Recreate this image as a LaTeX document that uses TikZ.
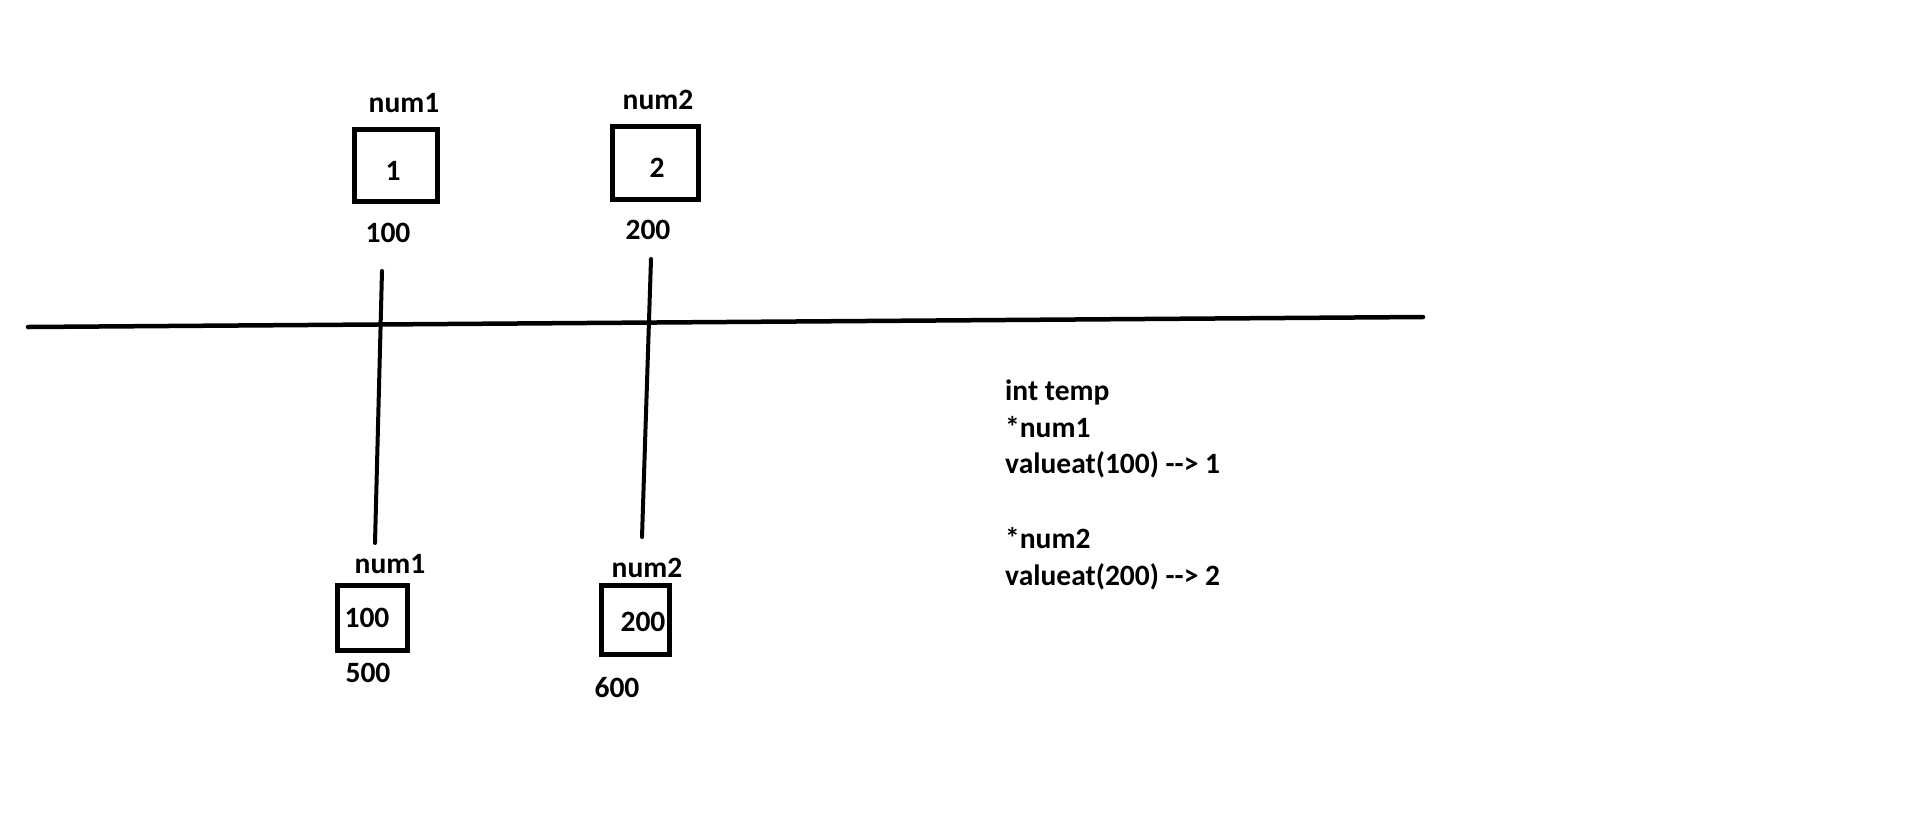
\documentclass[tikz,border=0pt]{standalone}
\usepackage{fontspec}
\setmainfont{Carlito}
\begin{document}
\begin{tikzpicture}[x=1pt,y=-1pt,
  txt/.style={inner sep=0pt, anchor=base, font=\fontsize{29.5}{35}\selectfont\bfseries},
  code/.style={txt, anchor=base west},
  cell/.style={draw, line width=5pt, inner sep=0pt},
  wire/.style={line width=4pt, line cap=round}]
\useasboundingbox[fill=white] (0,0) rectangle (1906,820);
% top boxes
\node[cell, minimum width=83pt, minimum height=72pt] (b1) at (396,165.5) {};
\node[cell, minimum width=86pt, minimum height=73pt] (b2) at (655.5,163) {};
\node[txt] (v1) at (393,180) {1};
\node[txt] (v2) at (657,177) {2};
\node[txt] (n1) at (404,112) {num1};
\node[txt] (n2) at (658,109) {num2};
\node[txt] (a1) at (388,242) {100};
\node[txt] (a2) at (648,239) {200};
% bottom boxes
\node[cell, minimum width=70pt, minimum height=65pt] (p1) at (372.5,618) {};
\node[cell, minimum width=68pt, minimum height=69pt] (p2) at (635.5,620) {};
\node[txt] (pv1) at (367,627) {100};
\node[txt] (pv2) at (643,631) {200};
\node[txt] (pn1) at (390,573) {num1};
\node[txt] (pn2) at (647,577) {num2};
\node[txt] (pa1) at (368,682) {500};
\node[txt] (pa2) at (617,697) {600};
% lines
\coordinate (hL) at (28,327);
\coordinate (hR) at (1423,317);
\coordinate (l1t) at (382,271);
\coordinate (l1b) at (375,543);
\coordinate (l2t) at (651,259);
\coordinate (l2b) at (642,537);
\draw[wire, line width=4.5pt] (hL) -- (hR);
\draw[wire] (l1t) -- (l1b);
\draw[wire] (l2t) -- (l2b);
% code text
\node[code] (t1) at (1005,400) {int temp};
\node[code] (t2) at (1005,437) {*num1};
\node[code] (t3) at (1005,473) {valueat(100) -{}-> 1};
\node[code] (t4) at (1005,548) {*num2};
\node[code] (t5) at (1005,585) {valueat(200) -{}-> 2};
\end{tikzpicture}
\end{document}
